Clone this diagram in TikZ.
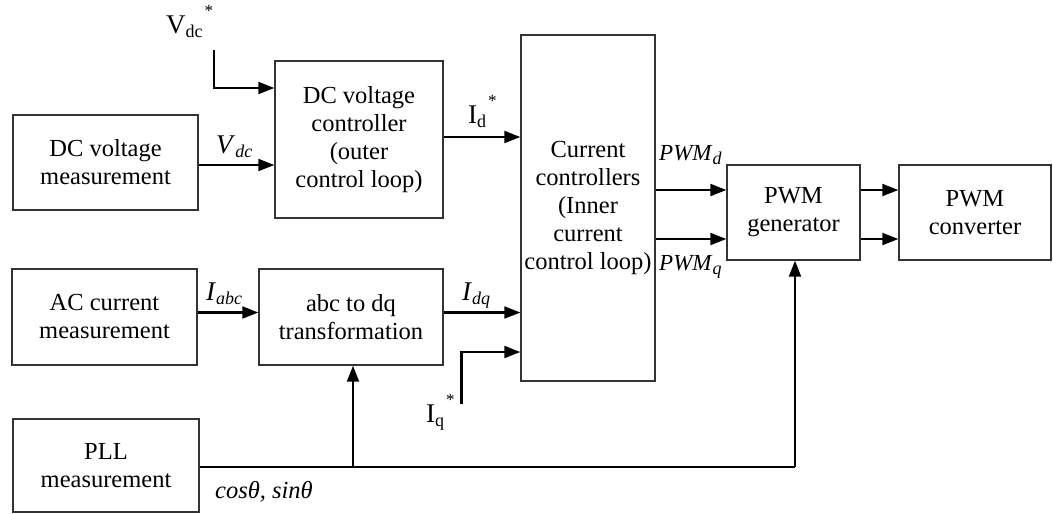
\documentclass[tikz,border=0pt]{standalone}
\usepackage{fontspec}
\setmainfont{Liberation Serif}
\usetikzlibrary{arrows.meta,calc}
\definecolor{ln}{HTML}{333333}
\newcommand{\sbs}[1]{\raisebox{-4pt}{\fontsize{18}{18}\selectfont #1}}
\newcommand{\sps}[1]{\hspace{2pt}\raisebox{17pt}{\fontsize{17}{17}\selectfont #1}}
\begin{document}
\begin{tikzpicture}[x=1pt,y=-1pt,
  box/.style={draw=ln, line width=1.4pt, align=center, inner sep=0pt,
    font=\fontsize{24.5}{28}\selectfont},
  arr/.style={draw=black, line width=2.2pt, -{Triangle[length=16pt,width=12pt]}},
  wire/.style={draw=black, line width=2.2pt},
  lbl/.style={font=\fontsize{27}{27}\selectfont, inner sep=0pt, anchor=base west}]
\useasboundingbox (0,0) rectangle (1053,514);
% boxes
\node[box, minimum width=185pt, minimum height=95pt] (dcm) at (105.5,162.5) {DC voltage\\measurement};
\node[box, minimum width=168pt, minimum height=157pt] (dcc) at (359,139.5) {DC voltage\\controller\\(outer\\control loop)};
\node[box, minimum width=185pt, minimum height=96pt] (acm) at (104.5,317) {AC current\\measurement};
\node[box, minimum width=184pt, minimum height=96pt] (abc) at (351,317) {abc to dq\\transformation};
\node[box, minimum width=186pt, minimum height=93pt] (pll) at (106,465.5) {PLL\\measurement};
\node[box, minimum width=134pt, minimum height=346pt] (cc) at (588,208) {Current\\controllers\\(Inner\\current\\control loop)};
\node[box, minimum width=133pt, minimum height=95pt] (gen) at (793.5,212.5) {PWM\\generator};
\node[box, minimum width=152pt, minimum height=95pt] (conv) at (975,212.5) {PWM\\converter};
% helper coordinates
\coordinate (vs) at (214,50);
\coordinate (y88) at (0,88);
\coordinate (y165) at (0,165);
\coordinate (y137) at (0,137);
\coordinate (y312) at (0,312.5);
\coordinate (y352) at (0,352);
\coordinate (y190) at (0,190);
\coordinate (y239) at (0,239);
\coordinate (iq) at (461.5,404);
\coordinate (j1) at (353,467);
\coordinate (j2) at (795,467);
% connectors
\draw[arr] (vs) |- (dcc.west |- y88);
\draw[arr] (dcm.east |- y165) -- (dcc.west |- y165);
\draw[arr] (dcc.east |- y137) -- (cc.west |- y137);
\draw[arr] (acm.east |- y312) -- (abc.west |- y312);
\draw[arr] (abc.east |- y312) -- (cc.west |- y312);
\draw[arr] (iq) |- (cc.west |- y352);
\draw[arr] (cc.east |- y190) -- (gen.west |- y190);
\draw[arr] (cc.east |- y239) -- (gen.west |- y239);
\draw[arr] (gen.east |- y190) -- (conv.west |- y190);
\draw[arr] (gen.east |- y239) -- (conv.west |- y239);
\draw[wire] (pll.east |- j1) -- (j2);
\draw[arr] (j1) -- (abc.south -| j1);
\draw[arr] (j2) -- (gen.south -| j2);
% labels
\node[lbl] (lvs) at (166,33) {V\sbs{dc}\sps{*}};
\node[lbl] (lvdc) at (216,153) {\textit{V}\sbs{\textit{dc}}};
\node[lbl] (lid) at (468,123) {I\sbs{d}\sps{*}};
\node[lbl] (liabc) at (206,300) {\textit{I}\sbs{\textit{abc}}};
\node[lbl] (lidq) at (462,300) {\textit{I}\sbs{\textit{dq}}};
\node[lbl] (liq) at (426,422) {I\sbs{q}\sps{*}};
\node[lbl, font=\fontsize{23}{23}\selectfont] (lpd) at (659,160) {\textit{PWM}\sbs{\textit{d}}};
\node[lbl, font=\fontsize{23}{23}\selectfont] (lpq) at (659,270) {\textit{PWM}\sbs{\textit{q}}};
\node[lbl, font=\fontsize{24.5}{24.5}\selectfont] (lcs) at (215,498) {\textit{cosθ, sinθ}};
\end{tikzpicture}
\end{document}
